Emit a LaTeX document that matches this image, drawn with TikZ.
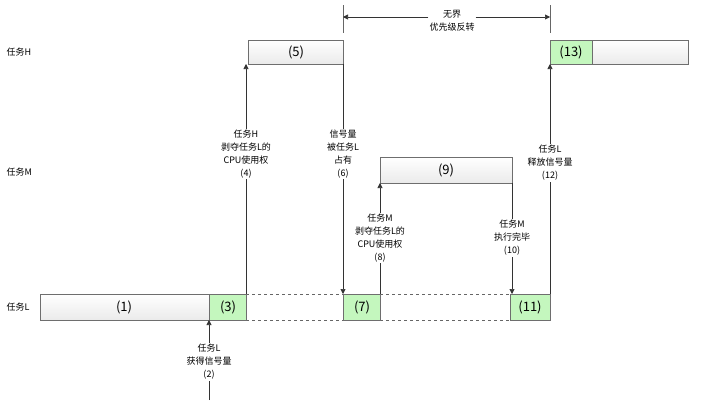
\documentclass[tikz,border=0pt]{standalone}
\usepackage{fontspec}
\setmainfont{Noto Sans CJK SC}
\usetikzlibrary{arrows.meta}
\definecolor{gr}{HTML}{C4F7BE}
\definecolor{bd}{HTML}{6E6E6E}
\begin{document}
\begin{tikzpicture}[x=1pt,y=-1pt,
 wbox/.style={draw=bd,top color=white,bottom color=black!8,line width=0.8pt},
 gbox/.style={draw=bd,fill=gr,line width=0.8pt},
 num/.style={font=\fontsize{13}{14}\selectfont},
 lab/.style={font=\fontsize{9}{13}\selectfont,align=center,fill=white,inner sep=1pt},
 arr/.style={draw=black!80,line width=0.6pt,-{Triangle[length=5pt,width=5pt]}},
 dsh/.style={draw=black!60,dashed,line width=0.6pt}]
\useasboundingbox (0,0) rectangle (720,402);
\node[font=\fontsize{9}{11}\selectfont,anchor=west] (tH) at (3,52) {任务H};
\node[font=\fontsize{9}{11}\selectfont,anchor=west] (tM) at (3,172) {任务M};
\node[font=\fontsize{9}{11}\selectfont,anchor=west] (tL) at (3,307) {任务L};
% dashed
\draw[dsh] (246,294) -- (343,294) (246,320) -- (343,320) (380,294) -- (510,294) (380,320) -- (510,320);
% boxes
\draw[wbox] (40,294) rectangle (209,320); \node[num] (b1) at (124,307) {(1)};
\draw[gbox] (209,294) rectangle (246,320); \node[num] (b3) at (228,307) {(3)};
\draw[gbox] (343,294) rectangle (380,320); \node[num] (b7) at (362,307) {(7)};
\draw[gbox] (510,294) rectangle (550,320); \node[num] (b11) at (530,307) {(11)};
\draw[wbox] (248,40) rectangle (343,64); \node[num] (b5) at (296,52) {(5)};
\draw[gbox] (550,40) rectangle (592,64); \node[num] (b13) at (571,52) {(13)};
\draw[wbox] (592,40) rectangle (688,64);
\draw[wbox] (380,157) rectangle (512,183); \node[num] (b9) at (446,170) {(9)};
% coordinates
\coordinate (p2a) at (209,400); \coordinate (p2b) at (209,320);
\coordinate (p4a) at (246,294); \coordinate (p4b) at (246,64);
\coordinate (p6a) at (343,64); \coordinate (p6b) at (343,294);
\coordinate (p8a) at (380,294); \coordinate (p8b) at (380,183);
\coordinate (p10a) at (512,183); \coordinate (p10b) at (512,294);
\coordinate (p12a) at (550,294); \coordinate (p12b) at (550,64);
\draw[arr] (p2a) -- (p2b);
\draw[arr] (p4a) -- (p4b);
\draw[arr] (p6a) -- (p6b);
\draw[arr] (p8a) -- (p8b);
\draw[arr] (p10a) -- (p10b);
\draw[arr] (p12a) -- (p12b);
\node[lab] (l2) at (209,362) {任务L\\获得信号量\\(2)};
\node[lab] (l4) at (246,154) {任务H\\剥夺任务L的\\CPU使用权\\(4)};
\node[lab] (l6) at (343,154) {信号量\\被任务L\\占有\\(6)};
\node[lab] (l8) at (380,238) {任务M\\剥夺任务L的\\CPU使用权\\(8)};
\node[lab] (l10) at (512,238) {任务M\\执行完毕\\(10)};
\node[lab] (l12) at (550,163) {任务L\\释放信号量\\(12)};
% top
\coordinate (t1a) at (343,5); \coordinate (t1b) at (343,33);
\coordinate (t2a) at (550,5); \coordinate (t2b) at (550,33);
\draw[draw=black!60,line width=0.6pt] (t1a) -- (t1b) (t2a) -- (t2b);
\node[lab] (inv) at (452,21) {无界\\优先级反转};
\draw[arr] (inv.west |- 0,17) -- (t1a |- 0,17);
\draw[arr] (inv.east |- 0,17) -- (t2a |- 0,17);
\end{tikzpicture}
\end{document}
